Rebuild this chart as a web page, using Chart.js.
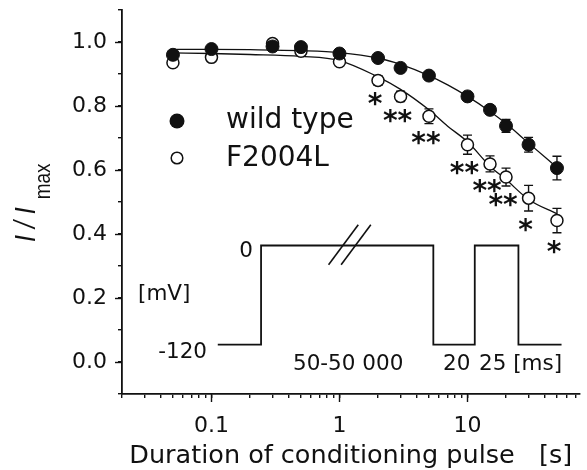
<!DOCTYPE html>
<html>
<head>
<meta charset="utf-8">
<script src="https://cdn.jsdelivr.net/npm/chart.js@4.4.0/dist/chart.umd.min.js"></script>
<style>
html,body{margin:0;padding:0;background:#fff;}
#wrap{width:587px;height:470px;position:relative;}
canvas{display:block;}
</style>
</head>
<body>
<div id="wrap"><canvas id="c" width="587" height="470"></canvas></div>
<script>
// ---- data ----
const durations   = [0.05, 0.1, 0.3, 0.5, 1, 2, 3, 5, 10, 15, 20, 30, 50];
const wildType    = [0.960, 0.978, 0.986, 0.984, 0.964, 0.950, 0.919, 0.895, 0.830, 0.788, 0.738, 0.679, 0.606];
const wildTypeErr = [0.006, 0.005, 0.006, 0.006, 0.005, 0.006, 0.006, 0.007, 0.008, 0.012, 0.020, 0.023, 0.037];
const f2004l      = [0.935, 0.952, 0.995, 0.971, 0.938, 0.880, 0.830, 0.768, 0.679, 0.619, 0.578, 0.512, 0.442];
const f2004lErr   = [0.006, 0.006, 0.006, 0.006, 0.006, 0.015, 0.016, 0.023, 0.030, 0.025, 0.028, 0.040, 0.038];
const significance = ['', '', '', '', '', '*', '**', '**', '**', '**', '**', '*', '*'];

const fitDurations = [0.05, 0.1, 0.2, 0.5, 1, 2, 3, 5, 7, 10, 15, 20, 30, 50];
const wildTypeFit  = [0.977, 0.977, 0.976, 0.973, 0.967, 0.950, 0.930, 0.895, 0.866, 0.830, 0.783, 0.745, 0.684, 0.608];
const f2004lFit    = [0.966, 0.964, 0.961, 0.955, 0.942, 0.891, 0.852, 0.788, 0.737, 0.688, 0.612, 0.570, 0.508, 0.463];

// voltage protocol schematic (in axis units)
const protocolTime  = [0.112, 0.244, 0.244, 5.41, 5.41, 11.4, 11.4, 25.0, 25.0, 54.3];
const protocolLevel = [0.054, 0.054, 0.364, 0.364, 0.054, 0.054, 0.364, 0.364, 0.054, 0.054];
const breakTimeA  = [0.822, 1.402];
const breakTimeB  = [1.030, 1.757];
const breakLevel  = [0.304, 0.429];

const seriesNames = ['wild type', 'F2004L'];

const xTickValues = [0.02,0.03,0.04,0.05,0.06,0.07,0.08,0.09,0.1,0.2,0.3,0.4,0.5,0.6,0.7,0.8,0.9,1,2,3,4,5,6,7,8,9,10,20,30,40,50,60,70];
const xMajorValues = [0.1, 1, 10];
const xMajorLabels = ['0.1', '1', '10'];
const yTickValues = [-0.1,0,0.1,0.2,0.3,0.4,0.5,0.6,0.7,0.8,0.9,1.0,1.1];
const yMajorValues = [0, 0.2, 0.4, 0.6, 0.8, 1.0];
const yMajorLabels = ['0.0', '0.2', '0.4', '0.6', '0.8', '1.0'];

// ---- styling ----
const INK = '#111';
const FAM = "'DejaVu Sans'";
const near = (a, b) => Math.abs(a - b) < 1e-6 * Math.max(1, Math.abs(b));
const pts = (xs, ys) => xs.map((v, i) => ({x: v, y: ys[i]}));

const overlay = {
  id: 'overlay',
  beforeDatasetsDraw(chart) {
    const {ctx, scales: {x, y}} = chart;
    ctx.save();
    ctx.strokeStyle = INK;
    ctx.lineWidth = 1.4;
    const bars = (vals, errs) => vals.forEach((v, i) => {
      const px = x.getPixelForValue(durations[i]);
      const t = y.getPixelForValue(v + errs[i]);
      const b = y.getPixelForValue(v - errs[i]);
      ctx.beginPath();
      ctx.moveTo(px, t); ctx.lineTo(px, b);
      ctx.moveTo(px - 4.5, t); ctx.lineTo(px + 4.5, t);
      ctx.moveTo(px - 4.5, b); ctx.lineTo(px + 4.5, b);
      ctx.stroke();
    });
    bars(wildType, wildTypeErr);
    bars(f2004l, f2004lErr);
    ctx.restore();
  },
  afterDraw(chart) {
    const {ctx, scales: {x, y}, chartArea} = chart;
    ctx.save();
    ctx.fillStyle = INK;
    ctx.strokeStyle = INK;
    // major tick marks (longer)
    ctx.lineWidth = 1.4;
    xMajorValues.forEach(v => {
      const px = Math.round(x.getPixelForValue(v)) + 0.5;
      ctx.beginPath(); ctx.moveTo(px, chartArea.bottom); ctx.lineTo(px, chartArea.bottom + 8); ctx.stroke();
    });
    yMajorValues.forEach(v => {
      const py = Math.round(y.getPixelForValue(v)) + 0.5;
      ctx.beginPath(); ctx.moveTo(chartArea.left, py); ctx.lineTo(chartArea.left - 7, py); ctx.stroke();
    });

    // significance asterisks under F2004L points
    ctx.font = `bold 28px ${FAM}`;
    ctx.textAlign = 'center';
    ctx.textBaseline = 'alphabetic';
    significance.forEach((s, i) => {
      if (!s) return;
      const px = x.getPixelForValue(durations[i]) - 3;
      const pb = y.getPixelForValue(f2004l[i] - f2004lErr[i]);
      ctx.fillText(s, px, pb + 14 + 14);
    });

    // legend
    ctx.beginPath(); ctx.arc(177, 121, 7.5, 0, Math.PI * 2); ctx.fill();
    ctx.beginPath(); ctx.arc(177, 158, 5.8, 0, Math.PI * 2);
    ctx.fillStyle = '#fff'; ctx.fill(); ctx.lineWidth = 1.5; ctx.stroke();
    ctx.fillStyle = INK;
    ctx.font = `28px ${FAM}`;
    ctx.textAlign = 'left';
    ctx.fillText(seriesNames[0], 226, 128);
    ctx.fillText(seriesNames[1], 226, 166);

    // protocol labels
    ctx.font = `21.5px ${FAM}`;
    ctx.textAlign = 'right';
    ctx.fillText('0', 253, 256.5);
    ctx.fillText('-120', 207, 358);
    ctx.textAlign = 'left';
    ctx.fillText('[mV]', 138, 300);
    ctx.fillText('50-50 000', 293, 370);
    ctx.fillText('20', 443, 370);
    ctx.fillText('25 [ms]', 479, 370);

    // y-axis title  I / I_max
    ctx.translate(35, 242);
    ctx.scale(1.2, 1);
    ctx.rotate(-Math.PI / 2);
    ctx.font = "italic 25px 'Liberation Sans'";
    ctx.textAlign = 'left';
    ctx.fillText('I / I', 0, 0);
    const w = ctx.measureText('I / I').width;
    ctx.font = "19px 'Liberation Sans'";
    ctx.fillText('max', w + 8, 12.5);
    ctx.restore();
  }
};

const lineDs = (data, extra) => Object.assign({
  data, showLine: true, borderColor: INK, borderWidth: 1.3, pointRadius: 0,
  tension: 0, fill: false
}, extra);

new Chart(document.getElementById('c'), {
  type: 'line',
  data: {
    datasets: [
      { label: seriesNames[0], data: pts(durations, wildType), showLine: false,
        pointRadius: 6.5, pointBackgroundColor: INK, pointBorderColor: INK, pointBorderWidth: 1 },
      { label: seriesNames[1], data: pts(durations, f2004l), showLine: false,
        pointRadius: 6, pointBackgroundColor: '#fff', pointBorderColor: INK, pointBorderWidth: 1.5 },
      lineDs(pts(fitDurations, wildTypeFit), { cubicInterpolationMode: 'monotone' }),
      lineDs(pts(fitDurations, f2004lFit), { cubicInterpolationMode: 'monotone' }),
      lineDs(pts(protocolTime, protocolLevel), { borderWidth: 1.8 }),
      lineDs(pts(breakTimeA, breakLevel), { borderWidth: 1.6 }),
      lineDs(pts(breakTimeB, breakLevel), { borderWidth: 1.6 })
    ]
  },
  options: {
    responsive: false,
    animation: false,
    devicePixelRatio: 1,
    layout: { padding: { top: 10, right: 2, left: 0, bottom: 0 } },
    plugins: { legend: { display: false }, tooltip: { enabled: false } },
    scales: {
      x: {
        type: 'logarithmic', min: 0.02, max: 75,
        afterBuildTicks: s => { s.ticks = xTickValues.map(v => ({ value: v })); },
        afterFit: s => { s.height = 76; s.paddingLeft = 0; s.paddingRight = 0; },
        ticks: {
          autoSkip: false, maxRotation: 0, minRotation: 0, color: INK, padding: 15,
          font: { family: FAM, size: 22 },
          callback: v => { const i = xMajorValues.findIndex(m => near(v, m)); return i >= 0 ? xMajorLabels[i] : ''; }
        },
        grid: { display: true, drawOnChartArea: false, drawTicks: true, tickLength: 4, color: INK, lineWidth: 1.4 },
        border: { display: true, color: INK, width: 1.8 },
        title: { display: true, text: 'Duration of conditioning pulse   [s]', color: INK,
                 font: { family: FAM, size: 25.5, lineHeight: 1 }, padding: { top: 0, bottom: 1 } }
      },
      y: {
        type: 'linear', min: -0.1, max: 1.1,
        afterBuildTicks: s => { s.ticks = yTickValues.map(v => ({ value: v })); },
        afterFit: s => { s.width = 122; s.paddingTop = 0; s.paddingBottom = 0; },
        ticks: {
          autoSkip: false, color: INK, padding: 11,
          font: { family: FAM, size: 22 },
          callback: v => { const i = yMajorValues.findIndex(m => near(v, m)); return i >= 0 ? yMajorLabels[i] : ''; }
        },
        grid: { display: true, drawOnChartArea: false, drawTicks: true, tickLength: 4, color: INK, lineWidth: 1.4 },
        border: { display: true, color: INK, width: 1.8 }
      }
    }
  },
  plugins: [overlay]
});
</script>
</body>
</html>
